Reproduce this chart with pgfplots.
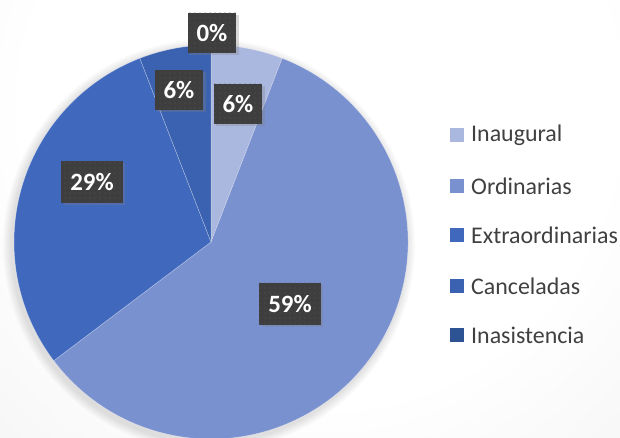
\documentclass[border=0pt]{standalone}
\usepackage{pgfplots}
\pgfplotsset{compat=1.18}
\usepackage{pgfplotstable}
\usepackage{fontspec}
\setmainfont{Carlito}
\usetikzlibrary{patterns.meta,shadows}

\definecolor{cInaug}{HTML}{AAB7DF}
\definecolor{cOrd}{HTML}{7A91D0}
\definecolor{cExt}{HTML}{4069BE}
\definecolor{cCan}{HTML}{3A62B0}
\definecolor{cIna}{HTML}{2E5395}
\definecolor{lab}{HTML}{3E3E3E}
\definecolor{txt}{HTML}{404040}
\definecolor{bgg}{HTML}{E3E3E3}

\pgfdeclareradialshading{bgshade}{\pgfpoint{0bp}{0bp}}{color(0bp)=(white); color(9bp)=(white); color(26bp)=(bgg); color(50bp)=(bgg)}

\pgfplotstableread{
name value
Inaugural 1
Ordinarias 10
Extraordinarias 5
Canceladas 1
Inasistencia 0
}\piedata

\newcommand{\cx}{211}
\newcommand{\cy}{196}
\newcommand{\rr}{197}
\newcommand{\slice}[3]{%
  \fill[#1, draw=white, draw opacity=0.4, line width=0.5bp] (axis cs:\cx,\cy) -- (axis cs:{\cx+\rr*cos(#2)},{\cy+\rr*sin(#2)}) arc[start angle=#2, end angle=#3, radius=\rr] -- cycle;}

\tikzset{lbl/.style={fill=lab, text=white, font=\bfseries\fontsize{25}{25}\selectfont,
  inner xsep=9bp, inner ysep=0bp, minimum height=40bp,
  drop shadow={shadow xshift=2.5bp, shadow yshift=-2.5bp, opacity=0.3},
  postaction={pattern={Dots[distance=5bp, radius=0.6bp]}, pattern color=white!12!lab}},
  leg/.style={anchor=west, inner sep=0pt, text=txt, font=\fontsize{24}{24}\selectfont}}

\begin{document}
\begin{tikzpicture}[x=1bp,y=1bp]
\clip (0,0) rectangle (620,438);
\shade[shading=bgshade] (320,330) circle (820);
% soft halo around pie
\foreach \k in {1,...,6}{\fill[black, opacity=0.018] (209,193) circle ({\rr+1.5*\k});}

\pgfplotstablegetelem{0}{value}\of\piedata \edef\vA{\pgfplotsretval}
\pgfplotstablegetelem{1}{value}\of\piedata \edef\vB{\pgfplotsretval}
\pgfplotstablegetelem{2}{value}\of\piedata \edef\vC{\pgfplotsretval}
\pgfplotstablegetelem{3}{value}\of\piedata \edef\vD{\pgfplotsretval}
\pgfplotstablegetelem{4}{value}\of\piedata \edef\vE{\pgfplotsretval}
\pgfmathsetmacro\tot{\vA+\vB+\vC+\vD+\vE}
\pgfmathsetmacro\aA{90}
\pgfmathsetmacro\aB{\aA-360*\vA/\tot}
\pgfmathsetmacro\aC{\aB-360*\vB/\tot}
\pgfmathsetmacro\aD{\aC-360*\vC/\tot}
\pgfmathsetmacro\aE{\aD-360*\vD/\tot}
\pgfmathsetmacro\aF{\aE-360*\vE/\tot}

\begin{axis}[at={(0,0)}, anchor=origin, x=1bp, y=1bp,
  xmin=0, xmax=620, ymin=0, ymax=438, enlargelimits=false,
  hide axis, clip=false]
\slice{cInaug}{\aA}{\aB}
\slice{cOrd}{\aB}{\aC}
\slice{cExt}{\aC}{\aD}
\slice{cCan}{\aD}{\aE}
\slice{cIna}{\aE}{\aF}

\node[lbl] at (axis cs:212,405) {0\%};
\node[lbl] at (axis cs:179,348) {6\%};
\node[lbl] at (axis cs:238,334) {6\%};
\node[lbl, minimum height=42bp] at (axis cs:92,256) {29\%};
\node[lbl, minimum height=42bp] at (axis cs:290,134) {59\%};

% legend
\fill[cInaug] (axis cs:450,296) rectangle (axis cs:464,310);
\node[leg] at (axis cs:471,303) {Inaugural};
\fill[cOrd] (axis cs:450,245) rectangle (axis cs:464,259);
\node[leg] at (axis cs:471,252) {Ordinarias};
\fill[cExt] (axis cs:450,196) rectangle (axis cs:464,210);
\node[leg] at (axis cs:471,203) {Extraordinarias};
\fill[cCan] (axis cs:450,145) rectangle (axis cs:464,159);
\node[leg] at (axis cs:471,152) {Canceladas};
\fill[cIna] (axis cs:450,96) rectangle (axis cs:464,110);
\node[leg] at (axis cs:471,103) {Inasistencia};
\end{axis}
\end{tikzpicture}
\end{document}
